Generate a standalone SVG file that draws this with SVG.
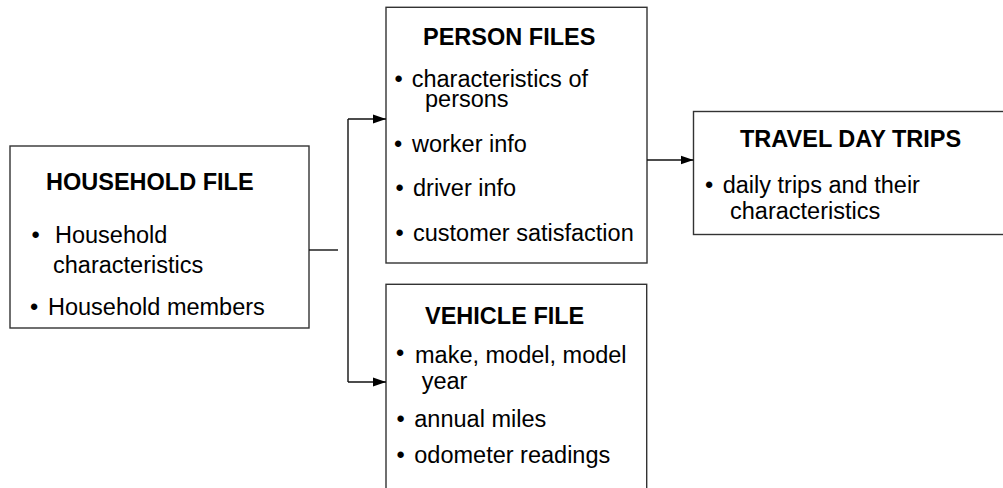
<svg xmlns="http://www.w3.org/2000/svg" width="1003" height="488" viewBox="0 0 1003 488">
<defs>
<marker id="arr" markerWidth="13" markerHeight="10" refX="13" refY="5" orient="auto" markerUnits="userSpaceOnUse">
<path d="M0,0.5 L13,5 L0,9.5 Z" fill="#000"/>
</marker>
<style>
.box{fill:#fff;stroke:#333;stroke-width:1.4}
.t{font-family:"Liberation Sans",Arial,sans-serif;font-size:23.5px;fill:#000}
.h{font-weight:bold}
.c{fill:none;stroke:#111;stroke-width:1.4}
</style>
</defs>
<rect width="1003" height="488" fill="#fff"/>
<g id="household">
<rect class="box" x="10" y="146" width="299" height="182"/>
<text class="t h" x="46" y="190">HOUSEHOLD FILE</text>
<text class="t" x="31.4" y="242.7">•</text>
<text class="t" x="55" y="242.7">Household</text>
<text class="t" x="53" y="272.7">characteristics</text>
<text class="t" x="30" y="315">•</text>
<text class="t" x="48" y="315">Household members</text>
</g>
<g id="person">
<rect class="box" x="386" y="7.3" width="261" height="255.7"/>
<text class="t h" x="423" y="45">PERSON FILES</text>
<text class="t" x="394.4" y="86.7">•</text>
<text class="t" x="411.7" y="86.7">characteristics of</text>
<text class="t" x="425" y="107">persons</text>
<text class="t" x="394" y="151.7">•</text>
<text class="t" x="412" y="151.7">worker info</text>
<text class="t" x="395.4" y="196">•</text>
<text class="t" x="413" y="196">driver info</text>
<text class="t" x="395.4" y="240.7">•</text>
<text class="t" x="413" y="240.7">customer satisfaction</text>
</g>
<g id="vehicle">
<rect class="box" x="386" y="284.3" width="260.7" height="215"/>
<text class="t h" x="425" y="324.3">VEHICLE FILE</text>
<text class="t" x="396" y="361">•</text>
<text class="t" x="415" y="363.3">make, model, model</text>
<text class="t" x="421.7" y="389">year</text>
<text class="t" x="396.6" y="426.7">•</text>
<text class="t" x="414.3" y="426.7">annual miles</text>
<text class="t" x="396.6" y="463.3">•</text>
<text class="t" x="414.3" y="463.3">odometer readings</text>
</g>
<g id="travel">
<rect class="box" x="693.5" y="111.5" width="320" height="123"/>
<text class="t h" x="740" y="146.7">TRAVEL DAY TRIPS</text>
<text class="t" x="705" y="193.3">•</text>
<text class="t" x="722.7" y="193.3">daily trips and their</text>
<text class="t" x="730" y="219.3">characteristics</text>
</g>
<g id="connectors">
<line class="c" x1="309" y1="250" x2="338" y2="250"/>
<line class="c" x1="348" y1="119" x2="348" y2="382"/>
<line class="c" x1="348" y1="119" x2="386" y2="119" marker-end="url(#arr)"/>
<line class="c" x1="348" y1="382" x2="386" y2="382" marker-end="url(#arr)"/>
<line class="c" x1="647" y1="160" x2="693.5" y2="160" marker-end="url(#arr)"/>
</g>
</svg>
